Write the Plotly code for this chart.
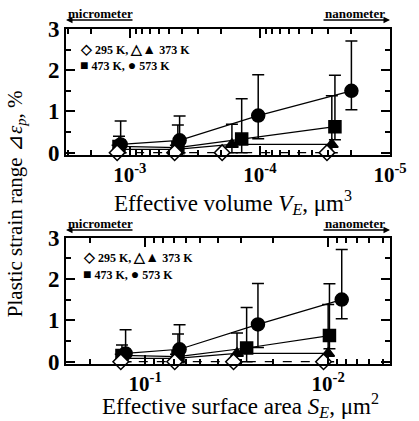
import plotly.graph_objects as go

# ---------------- data ----------------
temps = ["295 K", "373 K", "473 K", "573 K"]

V_295 = [1.25e-3, 4.52e-4, 1.95e-4, 3.05e-5]
V_373 = [1.24e-3, 4.42e-4, 1.64e-4, 2.80e-5]
V_473 = [1.21e-3, 4.27e-4, 1.38e-4, 2.65e-5]
V_573 = [1.175e-3, 4.14e-4, 1.03e-4, 1.98e-5]

S_295 = [0.136, 0.069, 0.0329, 0.0106]
S_373 = [0.136, 0.0679, 0.0315, 0.0100]
S_473 = [0.134, 0.0662, 0.0279, 0.00984]
S_573 = [0.128, 0.0649, 0.0242, 0.00843]

eps_295 = [0.0, 0.0, 0.0, 0.0]
eps_373 = [0.08, 0.08, 0.2, 0.2]
eps_473 = [0.15, 0.12, 0.33, 0.63]
eps_573 = [0.2, 0.3, 0.9, 1.5]

up_295 = [0.0, 0.0, 0.0, 0.0]
dn_295 = [0.0, 0.0, 0.0, 0.0]
up_373 = [0.1, 0.1, 0.49, 1.18]
dn_373 = [0.08, 0.08, 0.2, 0.2]
up_473 = [0.25, 0.55, 0.98, 1.25]
dn_473 = [0.15, 0.12, 0.33, 0.32]
up_573 = [0.57, 0.59, 0.99, 1.21]
dn_573 = [0.2, 0.3, 0.56, 0.46]

V_tickvals = [1e-3, 1e-4, 1e-5]
V_ticktext = ["<b>10<sup>-3</sup></b>", "<b>10<sup>-4</sup></b>", "<b>10<sup>-5</sup></b>"]
S_tickvals = [1e-1, 1e-2]
S_ticktext = ["<b>10<sup>-1</sup></b>", "<b>10<sup>-2</sup></b>"]
eps_tickvals = [0, 1, 2, 3]
eps_ticktext = ["<b>0</b>", "<b>1</b>", "<b>2</b>", "<b>3</b>"]

FONT = "Liberation Serif"

series = [
    (V_295, S_295, eps_295, up_295, dn_295, "diamond", "white", "dash"),
    (V_373, S_373, eps_373, up_373, dn_373, "triangle-up", "black", "solid"),
    (V_473, S_473, eps_473, up_473, dn_473, "square", "black", "solid"),
    (V_573, S_573, eps_573, up_573, dn_573, "circle", "black", "solid"),
]
sizes = {"diamond": 12, "triangle-up": 11, "square": 12, "circle": 13}

fig = go.Figure()
order = [1, 2, 3, 0]
for xa, ya, key in [("x", "y", 0), ("x2", "y2", 1)]:
    for i in order:
        V, S, e, up, dn, sym, fill, dash = series[i]
        xs = V if key == 0 else S
        fig.add_trace(go.Scatter(
            x=xs, y=e, xaxis=xa, yaxis=ya, mode="lines+markers",
            line=dict(color="black", width=1.2, dash=dash),
            marker=dict(symbol=sym, size=sizes[sym], color=fill,
                        line=dict(color="black", width=1.5)),
            error_y=dict(type="data", symmetric=False, array=up, arrayminus=dn,
                         color="black", thickness=1.5, width=6),
            showlegend=False, cliponaxis=False,
        ))

axis_common = dict(showline=True, linecolor="black", linewidth=2, mirror="ticks",
                   ticks="inside", tickcolor="black", tickwidth=1.5,
                   showgrid=False, zeroline=False)

xlog = dict(axis_common, type="log", ticklen=9, tickmode="array",
            tickfont=dict(family=FONT, size=21, color="black"),
            minor=dict(ticks="inside", ticklen=5, dtick="D1", tickcolor="black",
                       tickwidth=1.5, showgrid=False))
ylin = dict(axis_common, range=[-0.056, 3], ticklen=9, tickmode="array",
            tickvals=eps_tickvals, ticktext=eps_ticktext,
            tickfont=dict(family=FONT, size=23, color="black"),
            minor=dict(ticks="inside", ticklen=5, dtick=0.5, tickcolor="black",
                       tickwidth=1.5, showgrid=False))

fig.update_layout(
    width=419, height=421,
    margin=dict(l=66, r=23, t=29, b=57),
    paper_bgcolor="white", plot_bgcolor="white",
    xaxis=dict(xlog, range=[-2.51, -5.0], anchor="y", domain=[0, 1],
               tickvals=V_tickvals, ticktext=V_ticktext),
    yaxis=dict(ylin, anchor="x", domain=[0.624, 1.0]),
    xaxis2=dict(xlog, range=[-0.567, -2.338], anchor="y2", domain=[0, 1],
                tickvals=S_tickvals, ticktext=S_ticktext),
    yaxis2=dict(ylin, anchor="x2", domain=[0.0, 0.3776]),
    font=dict(family=FONT, color="black"),
)

ann = []
tf = dict(family=FONT, size=23, color="black")
ann.append(dict(text="Effective volume <i>V</i><sub><i>E</i></sub>, μm<sup>3</sup>",
                x=0.515, y=0.482, xref="paper", yref="paper", showarrow=False,
                font=tf, xanchor="center", yanchor="middle"))
ann.append(dict(text="Effective surface area <i>S</i><sub><i>E</i></sub>, μm<sup>2</sup>",
                x=0.54, y=-0.125, xref="paper", yref="paper", showarrow=False,
                font=tf, xanchor="center", yanchor="middle"))
ann.append(dict(text="Plastic strain range ⊿<i>ε</i><sub><i>p</i></sub>, %",
                x=-0.1545, y=0.48, xref="paper", yref="paper", showarrow=False,
                font=dict(family=FONT, size=21, color="black"),
                textangle=-90, xanchor="center", yanchor="middle"))

lf = dict(family=FONT, size=12, color="black", weight="bold")
def sym(s):
    return '<span style="font-size:14px">' + s + '</span>'
for (yl1, yl2, xl) in [(0.94, 0.892, 0.036), (0.318, 0.268, 0.047)]:
    ann.append(dict(text=sym("◇") + " " + temps[0] + ", " + sym("△▲") + " " + temps[1],
                    x=xl, y=yl1, xref="paper", yref="paper", showarrow=False,
                    font=lf, xanchor="left", yanchor="middle"))
    ann.append(dict(text=sym("■") + " " + temps[2] + ", " + sym("●") + " " + temps[3],
                    x=xl, y=yl2, xref="paper", yref="paper", showarrow=False,
                    font=lf, xanchor="left", yanchor="middle"))

sf = dict(family=FONT, size=13, color="black", weight="bold")
for (yt, ya) in [(1.0448, 1.0269), (0.418, 0.400)]:
    ann.append(dict(text="micrometer", x=0.1076, y=yt, xref="paper", yref="paper",
                    showarrow=False, font=sf, xanchor="center", yanchor="middle"))
    ann.append(dict(text="nanometer", x=0.8924, y=yt, xref="paper", yref="paper",
                    showarrow=False, font=sf, xanchor="center", yanchor="middle"))
    ann.append(dict(text="", x=0.0, y=ya, xref="paper", yref="paper", showarrow=True,
                    ax=68, ay=0, arrowhead=2, arrowsize=1, arrowwidth=1.3,
                    arrowcolor="black"))
    ann.append(dict(text="", x=1.0, y=ya, xref="paper", yref="paper", showarrow=True,
                    ax=-68, ay=0, arrowhead=2, arrowsize=1, arrowwidth=1.3,
                    arrowcolor="black"))

fig.update_layout(annotations=ann)
fig.write_html("out.html")
